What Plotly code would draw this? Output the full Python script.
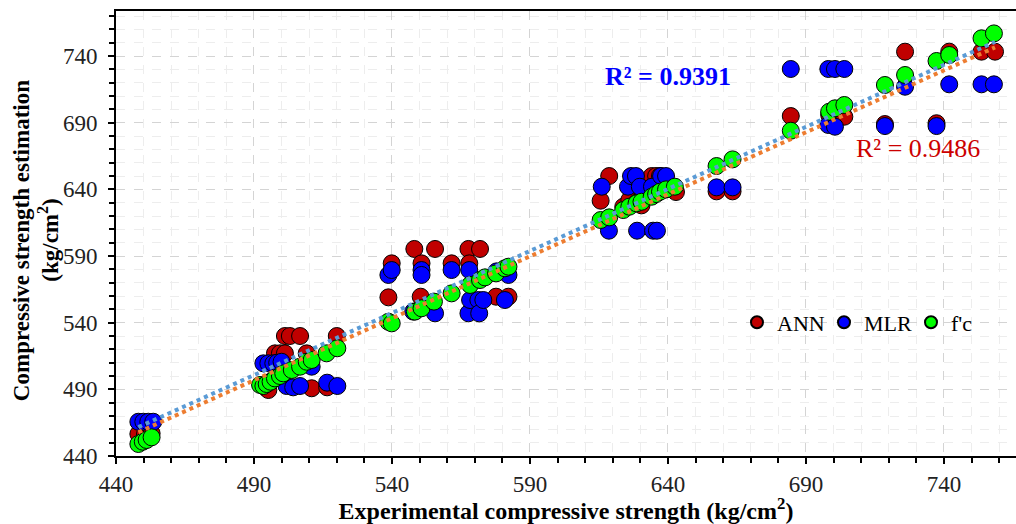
import numpy as np
import plotly.graph_objects as go

# ---------------- data ----------------
ann_x = [448.1, 450.5, 452.9,
         494.6, 495.2, 497.6, 499.4, 501.2, 501.2, 503.0, 506.7, 509.1, 510.9, 516.5, 520.0,
         538.7, 539.9, 548.1, 550.4, 550.7, 555.6, 561.6, 567.7, 568.0, 571.9, 577.7, 582.2,
         615.6, 618.7, 623.8, 626.0, 628.6, 630.4, 634.1, 635.7, 637.1, 639.3, 642.9,
         657.6, 663.4, 684.5, 698.4, 700.5, 703.9, 718.6, 725.9, 737.3, 741.9, 753.6, 758.5]
ann_y = [456.5, 456.5, 457.0,
         490.8, 489.5, 517.0, 517.0, 517.0, 530.0, 530.0, 530.0, 517.0, 490.8, 491.5, 530.0,
         559.0, 584.5, 595.3, 559.5, 584.5, 595.3, 584.5, 595.3, 584.5, 595.3, 559.5, 559.5,
         631.5, 650.0, 627.0, 632.0, 630.0, 628.0, 650.0, 650.0, 650.0, 640.0, 638.0,
         638.5, 638.5, 695.0, 696.0, 697.0, 694.5, 689.0, 743.3, 689.6, 743.3, 743.3, 743.3]

mlr_x = [448.1, 449.9, 451.7, 453.5,
         493.4, 495.2, 497.0, 498.4, 500.0, 501.8, 504.2, 506.7, 510.9, 516.5, 520.2,
         538.7, 539.9, 547.7, 550.7, 550.7, 555.6, 561.6, 567.7, 568.0, 568.3, 571.3, 571.6,
         573.1, 577.9, 580.9, 582.2,
         616.0, 618.6, 625.5, 626.6, 628.4, 628.8, 629.8, 634.2, 634.6, 636.0, 637.5, 639.3,
         657.6, 663.4, 684.5, 698.1, 700.5, 703.9, 698.1, 700.5, 718.6, 725.9, 737.3, 741.9,
         753.6, 758.1]
mlr_y = [465.7, 465.7, 465.7, 465.7,
         509.5, 509.5, 509.5, 510.0, 510.7, 492.5, 491.5, 492.5, 507.0, 495.0, 492.5,
         575.8, 579.5, 548.3, 579.5, 575.8, 547.0, 579.5, 547.0, 579.5, 557.0, 557.0, 547.0,
         557.0, 578.5, 557.0, 575.8,
         642.0, 609.0, 642.0, 650.0, 650.0, 609.0, 642.0, 642.0, 609.0, 609.0, 650.0, 650.0,
         641.5, 641.5, 730.3, 730.3, 730.3, 730.3, 688.3, 687.0, 687.5, 717.0, 687.5, 718.8,
         718.8, 718.8]

fc_x = [448.1, 449.7, 451.1, 452.9,
        492.2, 493.4, 494.6, 496.0, 497.6, 499.4, 500.6, 503.7, 506.7, 509.1, 510.9, 516.3, 520.2,
        538.7, 539.9, 548.3, 550.7, 555.2, 561.6, 568.3, 571.9, 573.7, 577.7, 580.9, 582.2,
        615.6, 618.7, 623.8, 626.0, 628.6, 630.4, 634.1, 635.7, 637.1, 639.3, 642.5,
        657.6, 663.4, 684.5, 698.4, 700.5, 703.9, 718.6, 725.9, 737.3, 741.9, 753.6, 758.1]
fc_y = [449.0, 450.7, 452.0, 454.0,
        493.3, 492.5, 494.0, 495.7, 498.2, 500.0, 502.0, 504.5, 507.0, 510.7, 512.0, 517.0, 520.8,
        540.7, 539.5, 548.3, 550.8, 555.8, 562.0, 568.3, 572.0, 574.0, 577.0, 580.8, 582.0,
        617.0, 619.0, 624.5, 627.0, 629.5, 630.7, 634.5, 636.5, 638.2, 640.0, 642.0,
        657.5, 662.5, 684.0, 698.2, 700.8, 703.3, 718.3, 725.8, 736.3, 740.8, 753.3, 757.0]

# linear trendlines as shown in the reference (slope, intercept)
ann_trend = [0.930, 41.1]
mlr_trend = [0.931, 44.5]

r2_mlr_text = "R² = 0.9391"
r2_ann_text = "R² = 0.9486"

x_title = "Experimental compressive strength (kg/cm<sup>2</sup>)"
y_title_lines = ["Compressive strength estimation", "(kg/cm<sup>2</sup>)"]

x_ticks = [440, 490, 540, 590, 640, 690, 740]
y_ticks = [440, 490, 540, 590, 640, 690, 740]

X_RANGE = [440, 766.1]
Y_RANGE = [440, 773.8]

# ---------------- figure ----------------
FONT = "Liberation Serif, Times New Roman, serif"
fig = go.Figure()

def add_pts(x, y, name, color):
    fig.add_trace(go.Scatter(
        x=x, y=y, mode="markers", name=name,
        marker=dict(size=17, color=color, line=dict(color="black", width=1)),
    ))

add_pts(ann_x, ann_y, "ANN", "#C00000")
add_pts(mlr_x, mlr_y, "MLR", "#0000FF")
add_pts(fc_x, fc_y, "f'c", "#00FF00")

all_x = np.array(ann_x + mlr_x + fc_x)

def add_trend(coef, color):
    m, b = coef
    xs = np.array([all_x.min(), all_x.max()])
    fig.add_trace(go.Scatter(
        x=xs, y=m * xs + b, mode="lines", showlegend=False, hoverinfo="skip",
        line=dict(color=color, width=4, dash="dot"),
    ))

add_trend(ann_trend, "#ED7D31")
add_trend(mlr_trend, "#5B9BD5")

fig.add_annotation(x=640, y=725, xref="x", yref="y", text=r2_mlr_text, showarrow=False,
                   font=dict(family=FONT, size=26, color="#0000FF", weight="bold"))
fig.add_annotation(x=730.6, y=671, xref="x", yref="y", text=r2_ann_text, showarrow=False,
                   font=dict(family=FONT, size=26, color="#CC0000"))

# y-axis title, two rotated lines
for txt, xpos in zip(y_title_lines, [-0.1056, -0.0750]):
    fig.add_annotation(x=xpos, y=0.485, xref="paper", yref="paper", text=txt,
                       textangle=-90, showarrow=False, xanchor="center", yanchor="middle",
                       font=dict(family=FONT, size=23, color="black", weight="bold"))

axis_common = dict(
    showline=True, linecolor="black", linewidth=2,
    ticks="outside", ticklen=6, tickwidth=2, tickcolor="black",
    tickfont=dict(family=FONT, size=23, color="#222222"),
    showgrid=True, gridcolor="#D4D4D4", gridwidth=1, griddash="dash",
    zeroline=False,
    minor=dict(dtick=10, ticks="outside", ticklen=5, tickwidth=2, tickcolor="black",
               showgrid=True, gridcolor="#EDEDED", gridwidth=1, griddash="dash"),
)

fig.update_xaxes(
    range=X_RANGE, tickvals=x_ticks, ticktext=[str(v) for v in x_ticks],
    mirror=True,
    title=dict(text=x_title,
               font=dict(family=FONT, size=24, color="black", weight="bold"), standoff=8),
    **axis_common,
)
fig.update_yaxes(
    range=Y_RANGE, tickvals=y_ticks, ticktext=[str(v) for v in y_ticks],
    ticklabelstandoff=6,
    **axis_common,
)

# overlay axes to make the major ticks cross the axis lines (inside part)
fig.update_layout(
    xaxis2=dict(overlaying="x", anchor="y", side="bottom", range=X_RANGE,
                tickvals=x_ticks, showticklabels=False, ticks="inside", ticklen=5,
                tickwidth=2, tickcolor="black", showgrid=False, showline=False, zeroline=False),
    yaxis2=dict(overlaying="y", anchor="x", side="left", range=Y_RANGE,
                tickvals=y_ticks, showticklabels=False, ticks="inside", ticklen=5,
                tickwidth=2, tickcolor="black", showgrid=False, showline=False, zeroline=False),
)

fig.update_layout(
    width=1016, height=524,
    margin=dict(l=116, r=0, t=11, b=68),
    plot_bgcolor="white", paper_bgcolor="white",
    showlegend=True,
    legend=dict(orientation="h", x=0.690, y=0.30, xanchor="left", yanchor="middle",
                bgcolor="rgba(0,0,0,0)", font=dict(family=FONT, size=22, color="black"),
                itemsizing="constant", itemwidth=30, entrywidth=42, tracegroupgap=0),
)

fig.write_html("out.html")
